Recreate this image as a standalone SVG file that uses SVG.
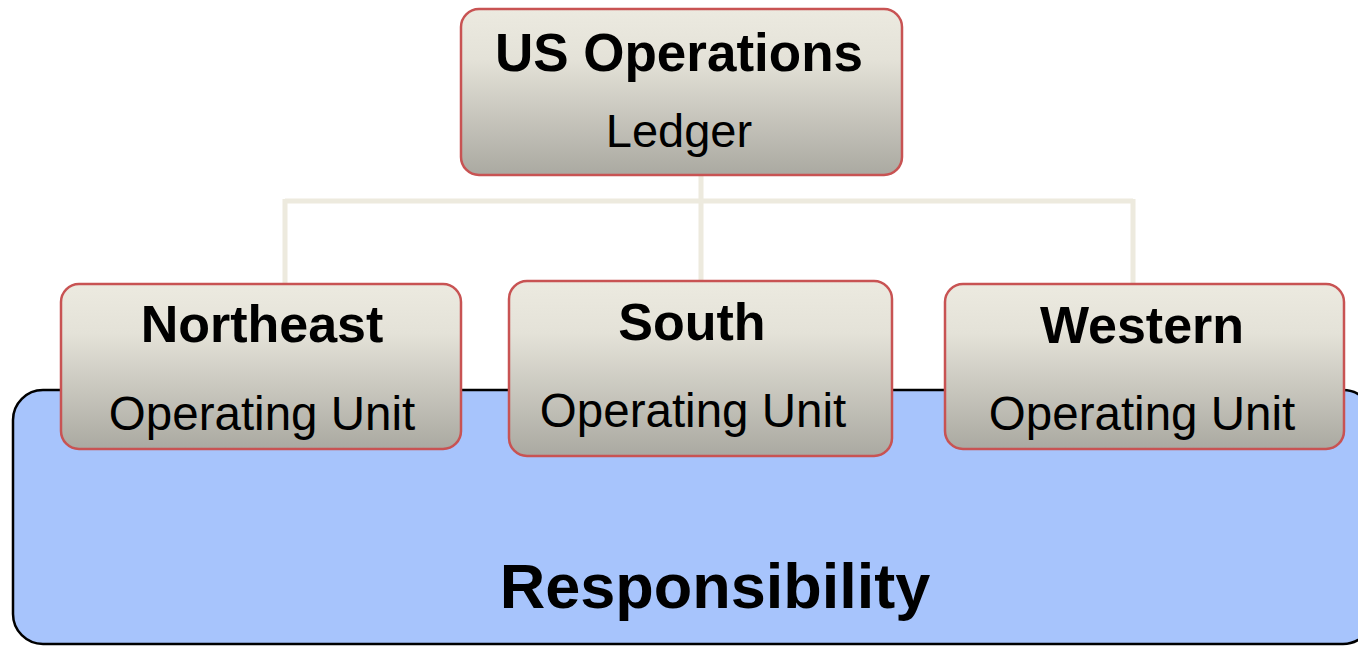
<svg xmlns="http://www.w3.org/2000/svg" width="1358" height="647" viewBox="0 0 1358 647">
<defs>
<linearGradient id="g" x1="0" y1="0" x2="0" y2="1">
<stop offset="0" stop-color="#ecEAE0"/>
<stop offset="0.3" stop-color="#e4e2d8"/>
<stop offset="1" stop-color="#aaa9a1"/>
</linearGradient>
<style>
.box{fill:url(#g);stroke:#c85353;stroke-width:2.5}
.t{font-family:"Liberation Sans",Arial,sans-serif;fill:#000;text-anchor:middle}
.b{font-weight:bold}
.conn{stroke:#edeade;stroke-width:5;fill:none}
</style>
</defs>
<g id="responsibility">
<rect x="13" y="390" width="1360" height="254" rx="30" fill="#a7c4fc" stroke="#000" stroke-width="2.5"/>
<text class="t b" x="715" y="608" font-size="63">Responsibility</text>
</g>
<g id="connectors">
<path class="conn" d="M701 175V281M285 201H1133M285 199V285M1133 199V285"/>
</g>
<g id="us-operations">
<rect class="box" x="461" y="9" width="441" height="166" rx="18"/>
<text class="t b" x="679" y="71" font-size="53">US Operations</text>
<text class="t" x="679" y="147" font-size="47">Ledger</text>
</g>
<g id="northeast">
<rect class="box" x="61" y="284" width="400" height="165" rx="18"/>
<text class="t b" x="262" y="342" font-size="52">Northeast</text>
<text class="t" x="262" y="430" font-size="47.5">Operating Unit</text>
</g>
<g id="south">
<rect class="box" x="509" y="281" width="383" height="175" rx="18"/>
<text class="t b" x="692" y="340" font-size="52">South</text>
<text class="t" x="693" y="427" font-size="47.5">Operating Unit</text>
</g>
<g id="western">
<rect class="box" x="945" y="284" width="399" height="165" rx="18"/>
<text class="t b" x="1142" y="343" font-size="52">Western</text>
<text class="t" x="1142" y="430" font-size="47.5">Operating Unit</text>
</g>
</svg>
